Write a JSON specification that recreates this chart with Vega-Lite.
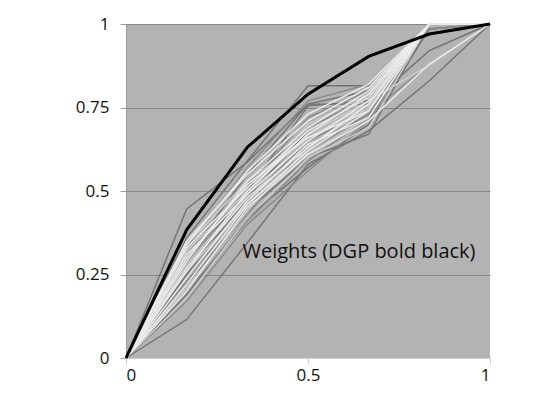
{
  "$schema": "https://vega.github.io/schema/vega-lite/v6.json",
  "width": 364,
  "height": 334,
  "autosize": {"type": "none"},
  "padding": {"left": 126, "top": 24, "right": 54, "bottom": 36},
  "background": "white",
  "config": {
    "view": {"fill": "#b3b3b3", "stroke": null},
    "font": "Open Sans",
    "axis": {"labelFont": "Open Sans", "labelFontSize": 17, "labelColor": "#111111", "title": null}
  },
  "datasets": {
    "lines": [
      {"s":"a1","g":"A","x":0,"y":0},{"s":"a1","g":"A","x":0.1667,"y":0.446},{"s":"a1","g":"A","x":0.3333,"y":0.587},{"s":"a1","g":"A","x":0.5,"y":0.76},{"s":"a1","g":"A","x":0.6667,"y":0.80},{"s":"a1","g":"A","x":0.8333,"y":1.0},{"s":"a1","g":"A","x":1,"y":1},
      {"s":"a2","g":"A","x":0,"y":0},{"s":"a2","g":"A","x":0.1667,"y":0.115},{"s":"a2","g":"A","x":0.3333,"y":0.345},{"s":"a2","g":"A","x":0.5,"y":0.58},{"s":"a2","g":"A","x":0.6667,"y":0.68},{"s":"a2","g":"A","x":0.8333,"y":0.83},{"s":"a2","g":"A","x":1,"y":1},
      {"s":"a3","g":"A","x":0,"y":0},{"s":"a3","g":"A","x":0.1667,"y":0.36},{"s":"a3","g":"A","x":0.3333,"y":0.59},{"s":"a3","g":"A","x":0.5,"y":0.815},{"s":"a3","g":"A","x":0.6667,"y":0.815},{"s":"a3","g":"A","x":0.8333,"y":1.0},{"s":"a3","g":"A","x":1,"y":1},
      {"s":"a4","g":"A","x":0,"y":0},{"s":"a4","g":"A","x":0.1667,"y":0.30},{"s":"a4","g":"A","x":0.3333,"y":0.55},{"s":"a4","g":"A","x":0.5,"y":0.76},{"s":"a4","g":"A","x":0.6667,"y":0.76},{"s":"a4","g":"A","x":0.8333,"y":0.92},{"s":"a4","g":"A","x":1,"y":1},
      {"s":"a5","g":"A","x":0,"y":0},{"s":"a5","g":"A","x":0.1667,"y":0.22},{"s":"a5","g":"A","x":0.3333,"y":0.44},{"s":"a5","g":"A","x":0.5,"y":0.60},{"s":"a5","g":"A","x":0.6667,"y":0.67},{"s":"a5","g":"A","x":0.8333,"y":1.0},{"s":"a5","g":"A","x":1,"y":1},
      {"s":"a6","g":"A","x":0,"y":0},{"s":"a6","g":"A","x":0.1667,"y":0.19},{"s":"a6","g":"A","x":0.3333,"y":0.42},{"s":"a6","g":"A","x":0.5,"y":0.57},{"s":"a6","g":"A","x":0.6667,"y":0.70},{"s":"a6","g":"A","x":0.8333,"y":0.985},{"s":"a6","g":"A","x":1,"y":1},
      {"s":"a7","g":"A","x":0,"y":0},{"s":"a7","g":"A","x":0.1667,"y":0.25},{"s":"a7","g":"A","x":0.3333,"y":0.48},{"s":"a7","g":"A","x":0.5,"y":0.68},{"s":"a7","g":"A","x":0.6667,"y":0.78},{"s":"a7","g":"A","x":0.8333,"y":0.985},{"s":"a7","g":"A","x":1,"y":1},
      {"s":"a8","g":"A","x":0,"y":0},{"s":"a8","g":"A","x":0.1667,"y":0.28},{"s":"a8","g":"A","x":0.3333,"y":0.50},{"s":"a8","g":"A","x":0.5,"y":0.755},{"s":"a8","g":"A","x":0.6667,"y":0.77},{"s":"a8","g":"A","x":0.8333,"y":1.0},{"s":"a8","g":"A","x":1,"y":1},
      {"s":"b1","g":"B","x":0,"y":0},{"s":"b1","g":"B","x":0.1667,"y":0.33},{"s":"b1","g":"B","x":0.3333,"y":0.57},{"s":"b1","g":"B","x":0.5,"y":0.77},{"s":"b1","g":"B","x":0.6667,"y":0.82},{"s":"b1","g":"B","x":0.8333,"y":0.985},{"s":"b1","g":"B","x":1,"y":1},
      {"s":"b2","g":"B","x":0,"y":0},{"s":"b2","g":"B","x":0.1667,"y":0.20},{"s":"b2","g":"B","x":0.3333,"y":0.41},{"s":"b2","g":"B","x":0.5,"y":0.59},{"s":"b2","g":"B","x":0.6667,"y":0.72},{"s":"b2","g":"B","x":0.8333,"y":1.0},{"s":"b2","g":"B","x":1,"y":1},
      {"s":"b3","g":"B","x":0,"y":0},{"s":"b3","g":"B","x":0.1667,"y":0.27},{"s":"b3","g":"B","x":0.3333,"y":0.47},{"s":"b3","g":"B","x":0.5,"y":0.65},{"s":"b3","g":"B","x":0.6667,"y":0.74},{"s":"b3","g":"B","x":0.8333,"y":1.0},{"s":"b3","g":"B","x":1,"y":1},
      {"s":"b4","g":"B","x":0,"y":0},{"s":"b4","g":"B","x":0.1667,"y":0.24},{"s":"b4","g":"B","x":0.3333,"y":0.45},{"s":"b4","g":"B","x":0.5,"y":0.62},{"s":"b4","g":"B","x":0.6667,"y":0.73},{"s":"b4","g":"B","x":0.8333,"y":0.88},{"s":"b4","g":"B","x":1,"y":1},
      {"s":"b5","g":"B","x":0,"y":0},{"s":"b5","g":"B","x":0.1667,"y":0.31},{"s":"b5","g":"B","x":0.3333,"y":0.52},{"s":"b5","g":"B","x":0.5,"y":0.69},{"s":"b5","g":"B","x":0.6667,"y":0.78},{"s":"b5","g":"B","x":0.8333,"y":1.0},{"s":"b5","g":"B","x":1,"y":1},
      {"s":"b6","g":"B","x":0,"y":0},{"s":"b6","g":"B","x":0.1667,"y":0.17},{"s":"b6","g":"B","x":0.3333,"y":0.40},{"s":"b6","g":"B","x":0.5,"y":0.56},{"s":"b6","g":"B","x":0.6667,"y":0.71},{"s":"b6","g":"B","x":0.8333,"y":1.0},{"s":"b6","g":"B","x":1,"y":1},
      {"s":"b7","g":"B","x":0,"y":0},{"s":"b7","g":"B","x":0.1667,"y":0.29},{"s":"b7","g":"B","x":0.3333,"y":0.51},{"s":"b7","g":"B","x":0.5,"y":0.72},{"s":"b7","g":"B","x":0.6667,"y":0.80},{"s":"b7","g":"B","x":0.8333,"y":1.0},{"s":"b7","g":"B","x":1,"y":1},
      {"s":"b8","g":"B","x":0,"y":0},{"s":"b8","g":"B","x":0.1667,"y":0.23},{"s":"b8","g":"B","x":0.3333,"y":0.43},{"s":"b8","g":"B","x":0.5,"y":0.64},{"s":"b8","g":"B","x":0.6667,"y":0.73},{"s":"b8","g":"B","x":0.8333,"y":1.0},{"s":"b8","g":"B","x":1,"y":1},
      {"s":"c1","g":"C","x":0,"y":0},{"s":"c1","g":"C","x":0.1667,"y":0.34},{"s":"c1","g":"C","x":0.3333,"y":0.53},{"s":"c1","g":"C","x":0.5,"y":0.66},{"s":"c1","g":"C","x":0.6667,"y":0.76},{"s":"c1","g":"C","x":0.8333,"y":1.0},{"s":"c1","g":"C","x":1,"y":1},
      {"s":"c2","g":"C","x":0,"y":0},{"s":"c2","g":"C","x":0.1667,"y":0.26},{"s":"c2","g":"C","x":0.3333,"y":0.46},{"s":"c2","g":"C","x":0.5,"y":0.61},{"s":"c2","g":"C","x":0.6667,"y":0.72},{"s":"c2","g":"C","x":0.8333,"y":1.0},{"s":"c2","g":"C","x":1,"y":1},
      {"s":"c3","g":"C","x":0,"y":0},{"s":"c3","g":"C","x":0.1667,"y":0.21},{"s":"c3","g":"C","x":0.3333,"y":0.44},{"s":"c3","g":"C","x":0.5,"y":0.63},{"s":"c3","g":"C","x":0.6667,"y":0.75},{"s":"c3","g":"C","x":0.8333,"y":1.0},{"s":"c3","g":"C","x":1,"y":1},
      {"s":"c4","g":"C","x":0,"y":0},{"s":"c4","g":"C","x":0.1667,"y":0.32},{"s":"c4","g":"C","x":0.3333,"y":0.50},{"s":"c4","g":"C","x":0.5,"y":0.67},{"s":"c4","g":"C","x":0.6667,"y":0.77},{"s":"c4","g":"C","x":0.8333,"y":0.877},{"s":"c4","g":"C","x":1,"y":1},
      {"s":"c5","g":"C","x":0,"y":0},{"s":"c5","g":"C","x":0.1667,"y":0.18},{"s":"c5","g":"C","x":0.3333,"y":0.42},{"s":"c5","g":"C","x":0.5,"y":0.60},{"s":"c5","g":"C","x":0.6667,"y":0.69},{"s":"c5","g":"C","x":0.8333,"y":1.0},{"s":"c5","g":"C","x":1,"y":1},
      {"s":"c6","g":"C","x":0,"y":0},{"s":"c6","g":"C","x":0.1667,"y":0.28},{"s":"c6","g":"C","x":0.3333,"y":0.49},{"s":"c6","g":"C","x":0.5,"y":0.70},{"s":"c6","g":"C","x":0.6667,"y":0.79},{"s":"c6","g":"C","x":0.8333,"y":1.0},{"s":"c6","g":"C","x":1,"y":1},
      {"s":"d1","g":"D","x":0,"y":0},{"s":"d1","g":"D","x":0.1667,"y":0.35},{"s":"d1","g":"D","x":0.3333,"y":0.55},{"s":"d1","g":"D","x":0.5,"y":0.71},{"s":"d1","g":"D","x":0.6667,"y":0.81},{"s":"d1","g":"D","x":0.8333,"y":1.0},{"s":"d1","g":"D","x":1,"y":1},
      {"s":"d2","g":"D","x":0,"y":0},{"s":"d2","g":"D","x":0.1667,"y":0.30},{"s":"d2","g":"D","x":0.3333,"y":0.52},{"s":"d2","g":"D","x":0.5,"y":0.66},{"s":"d2","g":"D","x":0.6667,"y":0.74},{"s":"d2","g":"D","x":0.8333,"y":1.0},{"s":"d2","g":"D","x":1,"y":1},
      {"s":"d3","g":"D","x":0,"y":0},{"s":"d3","g":"D","x":0.1667,"y":0.27},{"s":"d3","g":"D","x":0.3333,"y":0.48},{"s":"d3","g":"D","x":0.5,"y":0.63},{"s":"d3","g":"D","x":0.6667,"y":0.76},{"s":"d3","g":"D","x":0.8333,"y":1.0},{"s":"d3","g":"D","x":1,"y":1},
      {"s":"d4","g":"D","x":0,"y":0},{"s":"d4","g":"D","x":0.1667,"y":0.33},{"s":"d4","g":"D","x":0.3333,"y":0.51},{"s":"d4","g":"D","x":0.5,"y":0.68},{"s":"d4","g":"D","x":0.6667,"y":0.78},{"s":"d4","g":"D","x":0.8333,"y":1.0},{"s":"d4","g":"D","x":1,"y":1},
      {"s":"d5","g":"D","x":0,"y":0},{"s":"d5","g":"D","x":0.1667,"y":0.24},{"s":"d5","g":"D","x":0.3333,"y":0.47},{"s":"d5","g":"D","x":0.5,"y":0.64},{"s":"d5","g":"D","x":0.6667,"y":0.72},{"s":"d5","g":"D","x":0.8333,"y":1.0},{"s":"d5","g":"D","x":1,"y":1},
      {"s":"d6","g":"D","x":0,"y":0},{"s":"d6","g":"D","x":0.1667,"y":0.29},{"s":"d6","g":"D","x":0.3333,"y":0.53},{"s":"d6","g":"D","x":0.5,"y":0.69},{"s":"d6","g":"D","x":0.6667,"y":0.80},{"s":"d6","g":"D","x":0.8333,"y":1.0},{"s":"d6","g":"D","x":1,"y":1},
      {"s":"d7","g":"D","x":0,"y":0},{"s":"d7","g":"D","x":0.1667,"y":0.22},{"s":"d7","g":"D","x":0.3333,"y":0.46},{"s":"d7","g":"D","x":0.5,"y":0.62},{"s":"d7","g":"D","x":0.6667,"y":0.74},{"s":"d7","g":"D","x":0.8333,"y":1.0},{"s":"d7","g":"D","x":1,"y":1},
      {"s":"d8","g":"D","x":0,"y":0},{"s":"d8","g":"D","x":0.1667,"y":0.31},{"s":"d8","g":"D","x":0.3333,"y":0.49},{"s":"d8","g":"D","x":0.5,"y":0.65},{"s":"d8","g":"D","x":0.6667,"y":0.77},{"s":"d8","g":"D","x":0.8333,"y":1.0},{"s":"d8","g":"D","x":1,"y":1},
      {"s":"d9","g":"D","x":0,"y":0},{"s":"d9","g":"D","x":0.1667,"y":0.26},{"s":"d9","g":"D","x":0.3333,"y":0.50},{"s":"d9","g":"D","x":0.5,"y":0.67},{"s":"d9","g":"D","x":0.6667,"y":0.79},{"s":"d9","g":"D","x":0.8333,"y":1.0},{"s":"d9","g":"D","x":1,"y":1},
      {"s":"d10","g":"D","x":0,"y":0},{"s":"d10","g":"D","x":0.1667,"y":0.34},{"s":"d10","g":"D","x":0.3333,"y":0.56},{"s":"d10","g":"D","x":0.5,"y":0.73},{"s":"d10","g":"D","x":0.6667,"y":0.82},{"s":"d10","g":"D","x":0.8333,"y":1.0},{"s":"d10","g":"D","x":1,"y":1},
      {"s":"d11","g":"D","x":0,"y":0},{"s":"d11","g":"D","x":0.1667,"y":0.20},{"s":"d11","g":"D","x":0.3333,"y":0.45},{"s":"d11","g":"D","x":0.5,"y":0.61},{"s":"d11","g":"D","x":0.6667,"y":0.71},{"s":"d11","g":"D","x":0.8333,"y":0.88},{"s":"d11","g":"D","x":1,"y":1}
    ],
    "dgp": [
      {"x":0,"y":0},{"x":0.1667,"y":0.384},{"x":0.3333,"y":0.631},{"x":0.5,"y":0.79},{"x":0.6667,"y":0.903},{"x":0.8333,"y":0.97},{"x":1,"y":1}
    ],
    "label": [{"x":0.32,"y":0.317,"text":"Weights (DGP bold black)"}]
  },
  "layer": [
    {
      "data": {"name": "lines"},
      "mark": {"type": "line", "strokeWidth": 1.4, "clip": false},
      "encoding": {
        "x": {"field": "x", "type": "quantitative", "scale": {"domain": [0, 1], "nice": false, "zero": false},
          "axis": {"values": [0, 0.5, 1], "labelExpr": "datum.value + ''", "grid": false, "domainColor": "#d0d0d0", "tickColor": "#d0d0d0", "tickSize": 6, "labelPadding": 3, "labelFontSize": 17}},
        "y": {"field": "y", "type": "quantitative", "scale": {"domain": [0, 1], "nice": false, "zero": false},
          "axis": {"values": [0, 0.25, 0.5, 0.75, 1], "labelExpr": "datum.value + ''", "grid": true, "gridColor": "#878787", "gridWidth": 1.2, "domainColor": "#9a9a9a", "tickColor": "#9a9a9a", "tickSize": 6, "labelPadding": 11, "labelFontSize": 17}},
        "detail": {"field": "s"},
        "color": {"field": "g", "type": "nominal", "legend": null,
          "scale": {"domain": ["A", "B", "C", "D"], "range": ["#727272", "#8a8a8a", "#cdcdcd", "#ececec"]}},
        "order": {"field": "x"}
      }
    },
    {
      "data": {"name": "dgp"},
      "mark": {"type": "line", "color": "#000000", "strokeWidth": 3},
      "encoding": {
        "x": {"field": "x", "type": "quantitative"},
        "y": {"field": "y", "type": "quantitative"}
      }
    },
    {
      "data": {"name": "label"},
      "mark": {"type": "text", "align": "left", "baseline": "middle", "fontSize": 20, "font": "Open Sans", "color": "#111111"},
      "encoding": {
        "x": {"field": "x", "type": "quantitative"},
        "y": {"field": "y", "type": "quantitative"},
        "text": {"field": "text"}
      }
    }
  ]
}
